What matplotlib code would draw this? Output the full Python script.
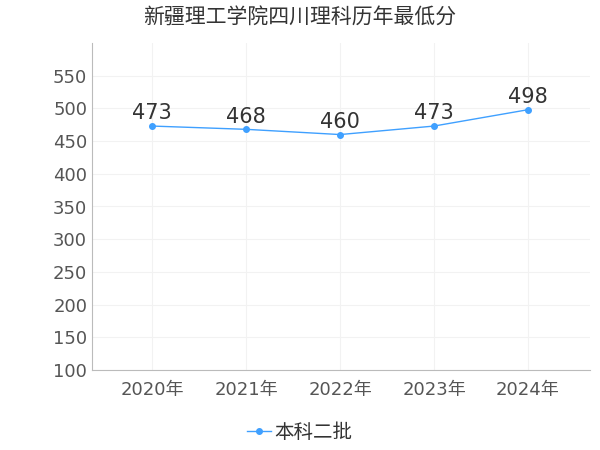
import matplotlib.pyplot as plt

plt.rcParams['font.family'] = ['DejaVu Sans', 'Noto Sans CJK SC']

years = ["2020年", "2021年", "2022年", "2023年", "2024年"]
scores = [473, 468, 460, 473, 498]
series_name = "本科二批"
yticks = [100, 150, 200, 250, 300, 350, 400, 450, 500, 550]

fig = plt.figure(figsize=(6, 4.5), dpi=100)
ax = fig.add_axes([92/600, 1 - 370/450, 498/600, 327/450])

x = range(len(years))
ax.plot(x, scores, color="#3fa0ff", lw=1, marker="o", ms=4, label=series_name)
for xi, v in zip(x, scores):
    ax.text(xi, v + 4, str(v), ha="center", va="bottom", fontsize=15, color="#333333")

ax.set_xlim(-0.64, 4.66)
ax.set_ylim(100, 600)
ax.set_yticks(yticks)
ax.set_xticks(list(x))
ax.set_xticklabels(years)
ax.tick_params(axis="both", labelsize=13, colors="#555555", length=0)
ax.tick_params(axis="x", pad=8)
ax.grid(True, color="#f2f2f2", lw=0.8)
ax.set_axisbelow(True)
for s in ["top", "right"]:
    ax.spines[s].set_visible(False)
for s in ["left", "bottom"]:
    ax.spines[s].set_color("#bbbbbb")

fig.text(300/600, 1 - 18/450, "新疆理工学院四川理科历年最低分", ha="center", va="center",
         fontsize=15, color="#333333")
fig.legend(loc="center", bbox_to_anchor=(300/600, 1 - 432/450), frameon=False,
           fontsize=14, handlelength=1.2, handletextpad=0.2, labelcolor="#333333")

fig.savefig("out.png", dpi=100)
